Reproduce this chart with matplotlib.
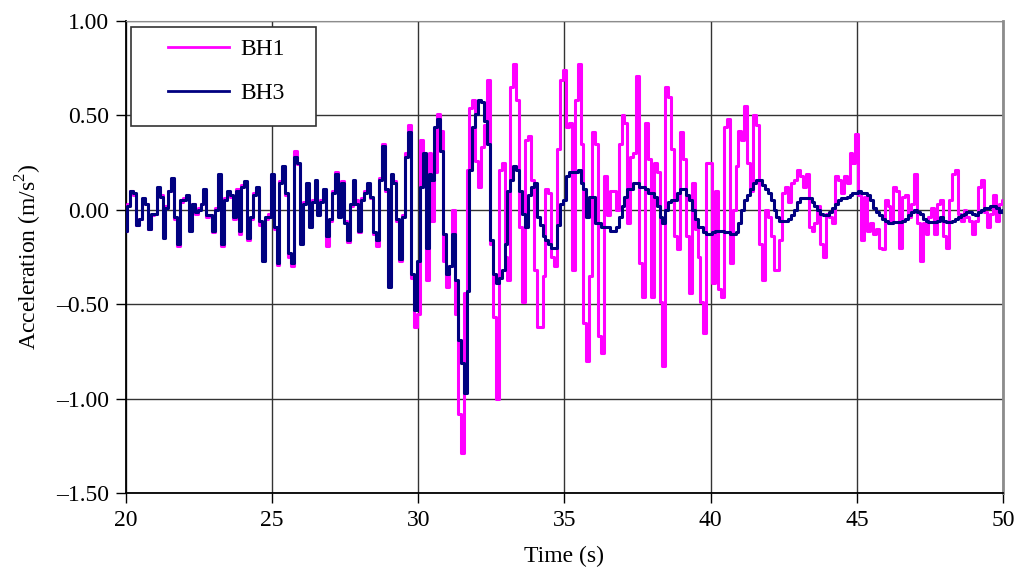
import numpy as np
import matplotlib
matplotlib.use("Agg")
from matplotlib import pyplot as plt
from matplotlib.ticker import FuncFormatter, MultipleLocator
from matplotlib.patches import Rectangle

plt.rcParams['font.family'] = ['Liberation Serif', 'DejaVu Serif']
plt.rcParams['mathtext.fontset'] = 'custom'
plt.rcParams['mathtext.rm'] = 'Liberation Serif'

# acceleration records, sampled every 0.1 s from 20 s to 50 s
t0 = 20.0
dt = 0.1

bh1 = [
    -0.11, 0.03, 0.10, 0.08, -0.08, -0.05, 0.05, 0.03, -0.10, -0.03,
    -0.02, 0.10, 0.08, -0.14, 0.02, 0.10, 0.16, -0.05, -0.19, 0.04,
    0.06, 0.07, -0.10, 0.03, -0.02, 0.01, 0.03, 0.10, -0.04, -0.03,
    -0.12, 0.01, 0.18, -0.19, 0.06, 0.08, 0.07, -0.05, 0.11, -0.13,
    0.13, 0.14, -0.16, -0.05, 0.09, 0.11, -0.08, -0.26, -0.05, -0.02,
    0.18, -0.10, -0.29, 0.15, 0.22, 0.08, -0.25, -0.30, 0.31, 0.24,
    -0.17, 0.04, 0.12, -0.08, 0.05, 0.15, -0.02, 0.05, 0.10, -0.19,
    -0.06, 0.10, 0.20, -0.03, 0.15, -0.06, -0.17, 0.02, 0.15, 0.05,
    -0.12, 0.06, 0.10, 0.13, 0.06, -0.13, -0.19, 0.17, 0.35, 0.10,
    -0.38, 0.17, 0.15, -0.06, -0.27, -0.03, 0.30, 0.45, -0.36, -0.62,
    -0.55, 0.37, 0.20, -0.37, 0.30, -0.06, 0.20, 0.51, 0.42, -0.27,
    -0.41, -0.30, 0.00, -0.55, -1.08, -1.29, -0.44, 0.21, 0.54, 0.58,
    0.26, 0.12, 0.33, 0.45, 0.69, -0.18, -0.57, -1.00, 0.21, 0.25,
    -0.25, -0.37, 0.65, 0.77, 0.58, -0.09, -0.49, 0.37, 0.39, 0.16,
    -0.32, -0.62, -0.62, -0.35, 0.11, 0.09, -0.25, -0.30, 0.32, 0.69,
    0.74, 0.44, 0.46, -0.32, 0.58, 0.77, 0.35, -0.60, -0.80, -0.35,
    0.41, 0.35, -0.67, -0.76, 0.18, -0.03, 0.10, 0.10, 0.00, 0.35,
    0.50, 0.46, -0.07, 0.28, 0.30, 0.71, -0.28, -0.46, 0.46, 0.27,
    -0.46, 0.25, 0.20, -0.49, -0.83, 0.65, 0.60, 0.32, -0.14, -0.21,
    0.41, 0.27, -0.14, -0.44, 0.14, -0.10, -0.25, -0.49, -0.65, 0.25,
    0.25, -0.39, 0.10, -0.42, -0.46, 0.44, 0.48, -0.28, 0.00, 0.23,
    0.42, 0.37, 0.55, 0.25, 0.10, 0.50, 0.45, -0.18, -0.37, 0.00,
    -0.04, -0.14, -0.32, -0.32, -0.16, 0.09, 0.12, 0.04, 0.14, 0.16,
    0.21, 0.18, 0.12, 0.19, -0.09, -0.11, -0.07, 0.02, -0.18, -0.25,
    -0.02, -0.04, -0.07, 0.18, 0.16, 0.09, 0.18, 0.14, 0.30, 0.25,
    0.40, 0.08, -0.16, 0.07, -0.11, -0.07, -0.13, -0.10, -0.20, -0.21,
    0.05, 0.02, -0.07, 0.12, 0.10, -0.20, 0.07, 0.08, -0.04, 0.03,
    0.19, -0.07, -0.27, -0.07, -0.13, -0.04, 0.01, -0.13, 0.03, 0.05,
    -0.14, -0.20, 0.05, 0.19, 0.21, -0.02, -0.06, 0.00, -0.04, -0.06,
    -0.13, -0.06, 0.12, 0.16, -0.01, -0.09, -0.02, 0.08, -0.06, 0.03,
    0.05,
]

bh3 = [
    -0.11, 0.02, 0.10, 0.09, -0.08, -0.05, 0.06, 0.03, -0.10, -0.02,
    -0.02, 0.12, 0.07, -0.15, 0.01, 0.10, 0.17, -0.04, -0.18, 0.05,
    0.05, 0.08, -0.11, 0.03, -0.01, 0.00, 0.03, 0.11, -0.03, -0.03,
    -0.11, 0.00, 0.19, -0.18, 0.05, 0.10, 0.08, -0.04, 0.10, -0.11,
    0.12, 0.15, -0.15, -0.04, 0.08, 0.12, -0.06, -0.27, -0.04, -0.04,
    0.19, -0.09, -0.28, 0.14, 0.23, 0.09, -0.23, -0.28, 0.28, 0.25,
    -0.18, 0.03, 0.14, -0.09, 0.04, 0.16, -0.03, 0.04, 0.11, -0.14,
    -0.05, 0.09, 0.19, -0.04, 0.14, -0.07, -0.16, 0.03, 0.16, 0.03,
    -0.11, 0.05, 0.09, 0.14, 0.07, -0.12, -0.16, 0.16, 0.34, 0.11,
    -0.41, 0.19, 0.14, -0.05, -0.26, -0.04, 0.28, 0.41, -0.34, -0.53,
    -0.27, 0.12, 0.30, -0.20, 0.19, 0.16, 0.44, 0.48, 0.31, -0.13,
    -0.34, -0.30, -0.13, -0.37, -0.69, -0.81, -0.97, -0.43, 0.21, 0.44,
    0.51, 0.58, 0.57, 0.47, 0.35, -0.16, -0.34, -0.39, -0.36, -0.32,
    -0.18, 0.10, 0.16, 0.23, 0.21, 0.10, -0.02, -0.09, 0.08, 0.12,
    0.14, -0.04, -0.08, -0.14, -0.16, -0.18, -0.20, -0.20, -0.08, 0.03,
    0.05, 0.18, 0.20, 0.20, 0.20, 0.21, 0.14, 0.11, -0.04, 0.07,
    0.07, -0.07, -0.07, -0.09, -0.09, -0.09, -0.11, -0.11, -0.09, -0.04,
    0.02, 0.07, 0.11, 0.11, 0.14, 0.14, 0.12, 0.12, 0.11, 0.09,
    0.09, 0.07, 0.02, -0.04, -0.07, 0.00, 0.04, 0.05, 0.05, 0.09,
    0.11, 0.11, 0.08, 0.05, 0.00, -0.05, -0.09, -0.09, -0.12, -0.13,
    -0.13, -0.12, -0.11, -0.11, -0.11, -0.12, -0.12, -0.13, -0.13, -0.12,
    -0.07, 0.00, 0.05, 0.08, 0.11, 0.14, 0.16, 0.16, 0.13, 0.11,
    0.09, 0.05, 0.00, -0.04, -0.06, -0.06, -0.06, -0.05, -0.03, 0.00,
    0.04, 0.06, 0.06, 0.06, 0.06, 0.04, 0.02, 0.00, -0.02, -0.03,
    -0.03, -0.01, 0.01, 0.03, 0.05, 0.06, 0.06, 0.07, 0.08, 0.09,
    0.09, 0.10, 0.09, 0.09, 0.08, 0.05, 0.01, -0.01, -0.03, -0.05,
    -0.06, -0.07, -0.07, -0.065, -0.065, -0.065, -0.06, -0.05, -0.03, -0.01,
    0.00, -0.01, -0.02, -0.05, -0.06, -0.065, -0.065, -0.065, -0.06, -0.04,
    -0.06, -0.065, -0.065, -0.06, -0.05, -0.04, -0.03, -0.02, -0.01, -0.01,
    -0.02, -0.03, -0.01, 0.00, 0.01, 0.01, 0.02, 0.02, 0.01, -0.01,
    0.00,
]

t = t0 + dt * np.arange(len(bh1))

fig = plt.figure(figsize=(10.15, 5.77), dpi=100)
ax = fig.add_axes([0.1241, 0.1456, 0.8641, 0.8180])

ax.plot(t, bh1, color='#FF00FF', lw=2.2, drawstyle='steps-mid', label='BH1', zorder=3)
ax.plot(t, bh3, color='#000080', lw=2.2, drawstyle='steps-mid', label='BH3', zorder=4)

ax.set_xlim(20, 50)
ax.set_ylim(-1.5, 1.0)
ax.xaxis.set_major_locator(MultipleLocator(5))
ax.yaxis.set_major_locator(MultipleLocator(0.5))
ax.yaxis.set_major_formatter(FuncFormatter(lambda v, p: ('%.2f' % v).replace('-', '\u2013')))
ax.grid(True, color='#333333', lw=1.0)
ax.set_axisbelow(True)

for side in ['top', 'right']:
    ax.spines[side].set_color('#8c8c8c')
ax.spines['right'].set_linewidth(2.0)
ax.spines['left'].set_linewidth(1.3)
ax.spines['bottom'].set_linewidth(1.3)

ax.tick_params(direction='out', length=7, width=1.0, labelsize=17, pad=5)
ax.set_xlabel('Time (s)', fontsize=17, labelpad=11)
ax.set_ylabel(r'Acceleration (m/s$^{\mathregular{2}}$)', fontsize=17, labelpad=9)

# legend box drawn by hand so the padding matches
ax.add_patch(Rectangle((0.0057, 0.7775), 0.2109, 0.2095, transform=ax.transAxes,
                       facecolor='white', edgecolor='#333333', lw=1.2, zorder=5))
leg = ax.legend(loc='upper left', bbox_to_anchor=(0.0479, 0.962), frameon=False,
                fontsize=17, handlelength=2.6, handletextpad=0.45, labelspacing=0.95,
                borderpad=0, borderaxespad=0)
leg.set_zorder(6)
for line in leg.get_lines():
    line.set_linewidth(2.0)

fig.savefig('out.png', dpi=100)
